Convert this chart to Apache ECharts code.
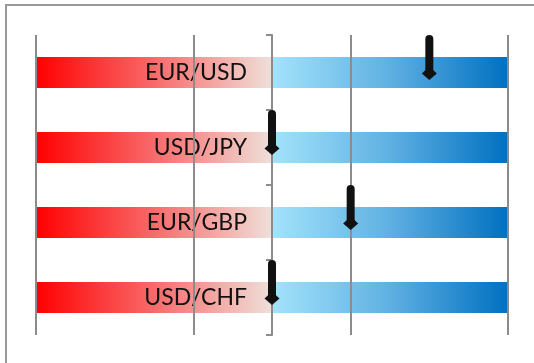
<!DOCTYPE html>
<html>
<head>
<meta charset="utf-8">
<script src="https://cdn.jsdelivr.net/npm/echarts@6/dist/echarts.min.js"></script>
<style>
html,body{margin:0;padding:0;background:#fff;}
#box1{width:534px;height:363px;}
</style>
</head>
<body>
<div id="box1"></div>
<script>
//货币对 情绪指标
var pairList = ['EUR/USD', 'USD/JPY', 'EUR/GBP', 'USD/CHF'];
var negList = [-1.5, -1.5, -1.5, -1.5];//左侧红条
var posList = [1.5, 1.5, 1.5, 1.5];//右侧蓝条
var markList = [1.0, 0, 0.5, 0];//箭头位置

var dom = document.getElementById("box1");
var myChart = echarts.init(dom);
var option = null;

var arrowData = [];
for (var i = 0; i < markList.length; i++) {
	arrowData.push([markList[i], i]);
}

function renderArrow(params, api) {
	var p = api.coord([api.value(0), api.value(1)]);
	var band = api.size([0, 1])[1];
	var top = p[1] - band / 2;
	return {
		type: 'group',
		children: [
			{
				type: 'rect',
				shape: {x: p[0] - 4, y: top, width: 8, height: band / 2 - 1, r: [4, 4, 0, 0]},
				style: {fill: '#111'}
			},
			{
				type: 'polygon',
				shape: {points: [[p[0] - 7.5, p[1] + 1], [p[0], p[1] - 6], [p[0] + 7.5, p[1] + 1], [p[0], p[1] + 7.5]]},
				style: {fill: '#111'}
			}
		]
	};
}

option = {
	animation: false,
	grid: {left: 36, right: 26, top: 35, bottom: 28},
	graphic: [{
		type: 'polyline',
		shape: {points: [[6, 363], [6, 5], [534, 5]]},
		style: {fill: 'none', stroke: '#999', lineWidth: 2},
		silent: true
	}],
	xAxis: {
		type: 'value',
		min: -1.5,
		max: 1.5,
		interval: 1,
		z: 3,
		axisLine: {show: false},
		axisTick: {show: false},
		axisLabel: {show: false},
		splitLine: {show: true, lineStyle: {color: '#8c8c8c', width: 2}}
	},
	yAxis: {
		type: 'category',
		inverse: true,
		data: pairList,
		z: 3,
		axisLine: {show: true, onZero: true, lineStyle: {color: '#8c8c8c', width: 2}},
		axisTick: {show: true, length: 6, lineStyle: {color: '#8c8c8c', width: 2}},
		axisLabel: {show: false},
		splitLine: {show: false}
	},
	series: [
		{
			type: 'bar',
			stack: 'a',
			barWidth: 31,
			data: negList,
			itemStyle: {
				color: new echarts.graphic.LinearGradient(36, 0, 272, 0, [
					{offset: 0, color: '#ff0000'},
					{offset: 0.5, color: '#f86a6a'},
					{offset: 1, color: '#efe0da'}
				], true)
			}
		},
		{
			type: 'bar',
			stack: 'a',
			barWidth: 31,
			data: posList,
			itemStyle: {
				color: new echarts.graphic.LinearGradient(272, 0, 508, 0, [
					{offset: 0, color: '#a3e3fb'},
					{offset: 0.5, color: '#5fb0e2'},
					{offset: 1, color: '#0070c0'}
				], true)
			},
			label: {
				show: true,
				position: 'left',
				distance: 25,
				color: '#111',
				fontFamily: 'Lato',
				fontSize: 23,
				formatter: function (p) {
					return p.name;
				}
			}
		},
		{
			type: 'custom',
			z: 5,
			renderItem: renderArrow,
			data: arrowData
		}
	]
};

if (option && typeof option === "object") {
	myChart.setOption(option, true);
}
</script>
</body>
</html>
